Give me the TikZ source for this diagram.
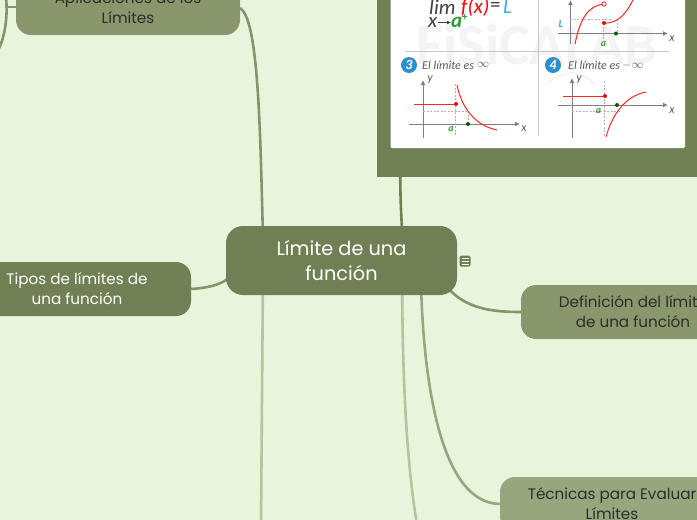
\documentclass[tikz,border=0pt]{standalone}
\usepackage{fontspec}
\setmainfont{Poppins}
\newfontfamily\imgfont{Carlito}
\usetikzlibrary{arrows.meta,backgrounds}
\definecolor{bgc}{HTML}{E8F5DC}
\definecolor{rootc}{HTML}{717F54}
\definecolor{nodeA}{HTML}{8A966B}
\definecolor{nodeB}{HTML}{98A67E}
\definecolor{lineA}{HTML}{87936A}
\definecolor{lineB}{HTML}{98A67E}
\definecolor{lineC}{HTML}{B4C59B}
\definecolor{txt}{HTML}{2B2F2A}
\definecolor{axisg}{HTML}{808080}
\definecolor{lblue}{HTML}{3FA9E8}
\definecolor{lgreen}{HTML}{2E9E2E}
\definecolor{ballb}{HTML}{2C8FD0}
\tikzset{x=1pt,y=-1pt,
 rootbox/.style={fill=rootc,rounded corners=17pt,inner sep=0pt,text=white,align=center,font=\fontsize{19.3}{25}\selectfont},
 subbox/.style={rounded corners=15pt,inner sep=0pt,minimum width=224pt,minimum height=54pt,text=txt,align=center,font=\fontsize{15.2}{20}\selectfont},
 conn/.style={line width=2.6pt},
 axl/.style={axisg,line width=1pt,-{Latex[length=5pt,width=5pt]}},
 redc/.style={red!85!white,line width=1pt},
 dashg/.style={gray!60,line width=.5pt,dash pattern=on 2pt off 1.5pt},
 smalli/.style={font=\imgfont\fontsize{12}{12}\selectfont\itshape,text=gray!70!black},
 grn/.style={font=\imgfont\fontsize{10}{10}\selectfont\bfseries\itshape,text=lgreen},
 bigt/.style={anchor=west,inner sep=0pt},
 ballnode/.style={circle,fill=ballb,text=white,inner sep=0pt,minimum size=16pt,font=\imgfont\fontsize{14}{14}\selectfont\bfseries\itshape},
}
\begin{document}
\begin{tikzpicture}
\useasboundingbox (0,0) rectangle (697,520);
% free ends
\coordinate (offT) at (400,120);
\coordinate (offB1) at (261,525);
\coordinate (offB2) at (417,525);
\coordinate (offL) at (5,7);
\coordinate (offLa) at (6,-2);
\coordinate (offLb) at (-2,50);
% nodes
\node[rootbox,minimum width=231pt,minimum height=69pt] (root) at (341.5,260.5) {Límite de una\\función};
\node[subbox,fill=nodeA] (apl) at (128,8) {Aplicaciones de los\\Límites};
\node[subbox,fill=rootc,text=white] (tip) at (79,289) {\hspace*{-4pt}Tipos de límites de\\\hspace*{-4pt}una función};
\node[subbox,fill=nodeA] (def) at (633,312) {Definición del límite\\de una función};
\node[subbox,fill=nodeB] (tec) at (612,504) {Técnicas para Evaluar\\Límites};
% connectors
\begin{scope}[on background layer]
\fill[bgc] (0,0) rectangle (697,520);
\draw[conn,lineC] ([xshift=37pt]root.south west) -- (offB1);
\draw[conn,lineC] ([xshift=-55pt]root.south east) .. controls (403,400) and (408,470) .. (offB2);
\draw[conn,lineB] ([xshift=-36pt,yshift=5pt]root.south east) .. controls (424,380) and (440,503) .. (tec.west);
\draw[conn,lineA] ([xshift=-10pt,yshift=8pt]root.south east) .. controls (465,308) and (490,312) .. (def.west);
\draw[conn,rootc] (offT) .. controls (400,170) and (400,200) .. ([xshift=-55pt,yshift=-5pt]root.north east);
\draw[conn,lineA] (apl.east) .. controls (258,20) and (260,120) .. ([xshift=37pt,yshift=-5pt]root.north west);
\draw[conn,lineA] (tip.east) .. controls (205,288) and (220,286) .. ([xshift=5pt,yshift=-16pt]root.west);
\draw[conn,lineA] (offLa) .. controls (8,15) and (5,38) .. (offLb);
\draw[conn,lineA] ([yshift=1pt]apl.west) -- (offL);
\end{scope}
% image card
\fill[rootc] (377,-5) rectangle (697,177);
\fill[white,rounded corners=1.5pt] (390.5,-5) rectangle (685,148);
\draw[gray!9,line width=2pt] (548,84) arc[start angle=220,end angle=320,radius=30];
\node[font=\imgfont\fontsize{58}{58}\selectfont\bfseries,text=gray!9] (wm) at (537,44) {FiSiCALAB};
\draw[gray!45,line width=.6pt] (538,0) -- (538,136);
\draw[gray!45,line width=.6pt] (405,51) -- (669,51);
% panel 1 text
\node[font=\imgfont\fontsize{21}{21}\selectfont\itshape,text=gray!50!black,bigt] (lim) at (429,7) {lim};
\node[font=\imgfont\fontsize{21}{21}\selectfont\itshape,text=red,bigt] (fx) at (461,7) {f(x)};
\node[font=\imgfont\fontsize{21}{21}\selectfont,text=gray!50!black,bigt] (eq) at (490,7) {=};
\node[font=\imgfont\fontsize{21}{21}\selectfont\itshape,text=lblue,bigt] (ll) at (503,7) {L};
\node[font=\imgfont\fontsize{21}{21}\selectfont\itshape,text=gray!50!black,bigt] (xa) at (428,22) {x};
\coordinate (arA) at (438,22.5);
\coordinate (arB) at (451,22.5);
\draw[gray!50!black,line width=1.2pt,-{Latex[length=4pt,width=4pt]}] (arA) -- (arB);
\node[font=\imgfont\fontsize{21}{21}\selectfont\itshape\bfseries,text=lgreen,bigt] (aa) at (451,22) {a};
\node[font=\imgfont\fontsize{11}{11}\selectfont\bfseries,text=lgreen,bigt] (ap) at (462,17) {+};
% panel 2
\draw[axl] (570.5,44) -- (570.5,0);
\draw[axl] (558,33.5) -- (668,33.5);
\draw[dashg] (570,19) -- (612,19);
\draw[dashg] (603.5,23) -- (603.5,40);
\draw[dashg] (617,19) -- (617,33);
\draw[redc] (575,44) .. controls (580,20) and (587,6) .. (604,4);
\draw[redc] (604,23) .. controls (620,24) and (628,10) .. (634,-2);
\fill[red] (604,23) circle (2pt);
\draw[red,fill=white,line width=.7pt] (604,4) circle (2.2pt);
\fill[green!35!black] (616,33.5) circle (2pt);
\node[smalli,text=lblue,font=\imgfont\fontsize{11}{11}\selectfont\bfseries\itshape] (l2) at (561,24) {L};
\node[grn] (a2) at (603.5,44) {a};
\node[smalli] (x2) at (672,38.5) {x};
% panel 3
\node[ballnode] (b3) at (409,65) {3};
\node[smalli,bigt] (t3) at (422,65) {El límite es};
\node[smalli,bigt] (i3) at (477,65) {$\infty$};
\draw[axl] (423,138) -- (423,80);
\draw[axl] (409,124) -- (520,124);
\draw[dashg] (455.5,84) -- (455.5,136);
\draw[dashg] (423,111) -- (468,111);
\draw[dashg] (468,111) -- (468,124);
\draw[redc] (414,104) -- (456,104);
\fill[red] (456,104) circle (2pt);
\draw[redc] (457,85) .. controls (462,110) and (477,126) .. (497,130);
\fill[green!35!black] (468,124) circle (2pt);
\node[smalli] (y3) at (430,80) {y};
\node[grn] (a3) at (451,129.5) {a};
\node[smalli] (x3) at (524,129) {x};
% panel 4
\node[ballnode] (b4) at (553,65) {4};
\node[smalli,bigt] (t4) at (568,65) {El límite es};
\node[smalli,bigt] (i4) at (622,65) {$-\infty$};
\draw[axl] (572,138) -- (572,78);
\draw[axl] (558,105) -- (668,105);
\draw[dashg] (604.5,81) -- (604.5,136);
\draw[dashg] (572,111) -- (620,111);
\draw[redc] (563,96) -- (605,96);
\fill[red] (605,96) circle (2pt);
\draw[redc] (606,137) .. controls (612,115) and (625,96) .. (646,92);
\fill[green!35!black] (617,105) circle (2pt);
\node[smalli] (y4) at (579,80) {y};
\node[grn] (a4) at (598.5,111) {a};
\node[smalli] (x4) at (672,111) {x};
% note icon
\node[fill=rootc,rounded corners=1.5pt,minimum width=11pt,minimum height=11pt,inner sep=0pt] (ic) at (465,261) {};
\draw[white,line width=.8pt] (461.5,258) -- (468.5,258) (461.5,261) -- (468.5,261) (461.5,264) -- (468.5,264);
\end{tikzpicture}
\end{document}
